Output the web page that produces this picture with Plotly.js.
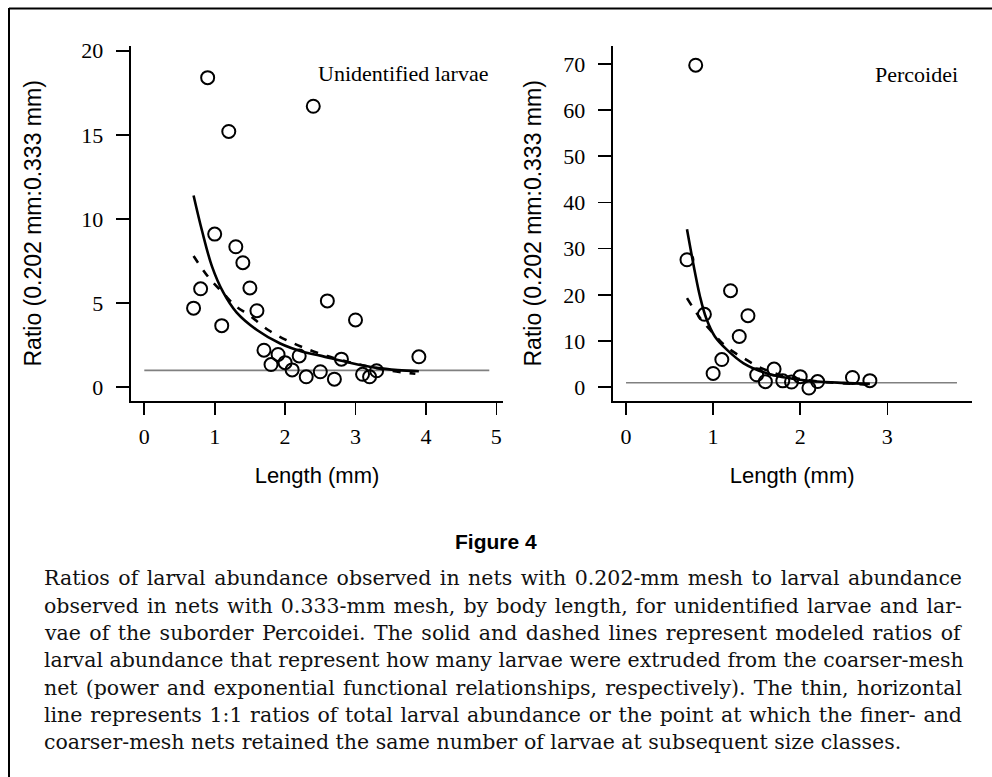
<!DOCTYPE html>
<html>
<head>
<meta charset="utf-8">
<script src="https://cdn.plot.ly/plotly-3.0.1.min.js"></script>
<style>html,body{margin:0;padding:0;background:#fff;}#chart{width:992px;height:777px;}</style>
</head>
<body>
<div id="chart"></div>
<script>
// ---- Unidentified larvae: observed ratios ----
const unidLength = [0.9, 1.2, 2.4, 1.0, 1.3, 1.4, 1.5, 0.8, 0.7, 1.6, 1.1, 2.6, 3.0, 1.7, 1.9, 1.8, 2.0, 2.2, 2.1, 2.3, 2.5, 2.7, 2.8, 3.1, 3.2, 3.3, 3.9];
const unidRatio  = [18.4, 15.2, 16.7, 9.1, 8.35, 7.4, 5.9, 5.85, 4.7, 4.55, 3.66, 5.13, 4.0, 2.2, 1.95, 1.35, 1.46, 1.86, 1.03, 0.62, 0.92, 0.48, 1.67, 0.77, 0.62, 0.98, 1.81];
// modeled curves
const unidPowerX = [0.70, 0.82, 0.96, 1.12, 1.31, 1.60, 1.93, 2.26, 2.50, 2.92, 3.30, 3.60, 3.90];
const unidPowerY = [11.4, 9.3, 7.2, 5.65, 4.45, 3.4, 2.6, 2.1, 1.88, 1.45, 1.15, 1.02, 0.95];
const unidExpX   = [0.70, 0.91, 1.12, 1.29, 1.50, 1.76, 2.02, 2.28, 2.60, 2.90, 3.16, 3.50, 3.85];
const unidExpY   = [7.8, 6.55, 5.6, 4.85, 4.25, 3.4, 2.8, 2.33, 1.85, 1.5, 1.25, 0.98, 0.8];

// ---- Percoidei: observed ratios ----
const percLength = [0.8, 0.7, 1.2, 0.9, 1.4, 1.3, 1.1, 1.0, 1.5, 1.6, 1.7, 1.8, 1.9, 2.0, 2.1, 2.2, 2.6, 2.8];
const percRatio  = [69.7, 27.6, 20.9, 15.8, 15.5, 11.0, 6.0, 3.0, 2.7, 1.22, 3.95, 1.4, 1.15, 2.3, -0.15, 1.25, 2.12, 1.44];
const percPowerX = [0.70, 0.79, 0.85, 0.92, 1.02, 1.16, 1.35, 1.62, 1.88, 2.19, 2.50, 2.80];
const percPowerY = [34.2, 25.0, 19.6, 15.0, 11.0, 8.1, 5.2, 3.0, 1.95, 1.25, 0.95, 0.75];
const percExpX   = [0.70, 0.85, 1.00, 1.15, 1.35, 1.56, 1.77, 2.00, 2.23, 2.50, 2.80];
const percExpY   = [19.3, 15.0, 11.7, 8.8, 6.3, 4.1, 2.7, 1.8, 1.2, 0.85, 0.55];

// 1:1 reference lines
const unidRefX = [0, 4.9];
const unidRefY = [1, 1];
const percRefX = [0, 3.8];
const percRefY = [1, 1];

// tick labels
const unidXTicks = [0, 1, 2, 3, 4, 5];
const unidYTicks = [0, 5, 10, 15, 20];
const percXTicks = [0, 1, 2, 3];
const percYTicks = [0, 10, 20, 30, 40, 50, 60, 70];

const captionLines = [
  "Ratios of larval abundance observed in nets with 0.202-mm mesh to larval abundance",
  "observed in nets with 0.333-mm mesh, by body length, for unidentified larvae and lar-",
  "vae of the suborder Percoidei. The solid and dashed lines represent modeled ratios of",
  "larval abundance that represent how many larvae were extruded from the coarser-mesh",
  "net (power and exponential functional relationships, respectively). The thin, horizontal",
  "line represents 1:1 ratios of total larval abundance or the point at which the finer- and",
  "coarser-mesh nets retained the same number of larvae at subsequent size classes."
];

const W = 992, H = 777;
const px = v => v / W;
const py = v => (H - v) / H;

const marker = {symbol: 'circle-open', size: 13, color: '#000', line: {width: 2, color: '#000'}};
const solid = {color: '#000', width: 2.6, shape: 'spline', smoothing: 1};
const dashed = {color: '#000', width: 2.6, shape: 'spline', smoothing: 1, dash: '8px,9px'};
const ref = {color: '#808080', width: 1.6};

const traces = [
  {x: unidRefX, y: unidRefY, xaxis: 'x', yaxis: 'y', mode: 'lines', line: ref},
  {x: unidExpX, y: unidExpY, xaxis: 'x', yaxis: 'y', mode: 'lines', line: dashed},
  {x: unidPowerX, y: unidPowerY, xaxis: 'x', yaxis: 'y', mode: 'lines', line: solid},
  {x: unidLength, y: unidRatio, xaxis: 'x', yaxis: 'y', mode: 'markers', marker: marker, cliponaxis: false},
  {x: percRefX, y: percRefY, xaxis: 'x2', yaxis: 'y2', mode: 'lines', line: ref},
  {x: percExpX, y: percExpY, xaxis: 'x2', yaxis: 'y2', mode: 'lines', line: dashed},
  {x: percPowerX, y: percPowerY, xaxis: 'x2', yaxis: 'y2', mode: 'lines', line: solid},
  {x: percLength, y: percRatio, xaxis: 'x2', yaxis: 'y2', mode: 'markers', marker: marker, cliponaxis: false}
];

const tickFont = {family: 'Liberation Serif, Times New Roman, serif', size: 22, color: '#000'};
const xTitleFont = {family: 'Liberation Sans, Arial, sans-serif', size: 22, color: '#000'};
const yTitleFont = {family: 'Liberation Sans, Arial, sans-serif', size: 23, color: '#000'};
const yTitle = 'Ratio (0.202 mm:0.333 mm)';

function xAx(domain, range, ticks, anchor) {
  return {domain: domain, range: range, anchor: anchor, tickvals: ticks, ticktext: ticks.map(String),
    showline: true, linecolor: '#000', linewidth: 2, ticks: 'outside', ticklen: 12, tickwidth: 1.6,
    tickcolor: '#000', showgrid: false, zeroline: false, tickfont: tickFont, ticklabelstandoff: 3,
    title: {text: 'Length (mm)', font: xTitleFont, standoff: 20}, fixedrange: true};
}
function yAx(domain, range, ticks, anchor, standoff) {
  return {domain: domain, range: range, anchor: anchor, tickvals: ticks, ticktext: ticks.map(String),
    showline: true, linecolor: '#000', linewidth: 2, ticks: 'outside', ticklen: 13, tickwidth: 1.6,
    tickcolor: '#000', showgrid: false, zeroline: false, tickfont: tickFont, ticklabelstandoff: 8,
    title: {text: yTitle, font: yTitleFont, standoff: standoff}, fixedrange: true};
}

const yDom = [py(400.7), py(46)];

const annotations = [
  {xref: 'x', yref: 'y', x: 4.91, y: 18.67, xanchor: 'right', yanchor: 'middle', showarrow: false,
   text: 'Unidentified larvae', font: {family: 'Liberation Serif, Times New Roman, serif', size: 22, color: '#000'}},
  {xref: 'x2', yref: 'y2', x: 3.835, y: 67.7, xanchor: 'right', yanchor: 'middle', showarrow: false,
   text: 'Percoidei', font: {family: 'Liberation Serif, Times New Roman, serif', size: 22, color: '#000'}},
  {xref: 'paper', yref: 'paper', x: 0.5, y: py(541), xanchor: 'center', yanchor: 'middle', showarrow: false,
   text: '<b>Figure 4</b>', font: {family: 'Liberation Sans, Arial, sans-serif', size: 21, color: '#000'}}
];
const lineY = [578, 605.5, 633, 660, 687.5, 714.5, 741.5];
const captionStart = annotations.length;
captionLines.forEach((t, i) => {
  annotations.push({xref: 'paper', yref: 'paper', x: px(42), y: py(lineY[i]), xanchor: 'left', yanchor: 'middle',
    align: 'left', showarrow: false, text: t, font: {family: 'DejaVu Serif, serif', size: 20.5, color: '#111'}});
});

const layout = {
  width: W, height: H, margin: {l: 0, r: 0, t: 0, b: 0},
  paper_bgcolor: '#fff', plot_bgcolor: 'rgba(0,0,0,0)', showlegend: false,
  xaxis: xAx([px(130.7), px(503.3)], [-0.193, 5.099], unidXTicks, 'y'),
  yaxis: yAx(yDom, [-0.8, 20.28], unidYTicks, 'x', 33),
  xaxis2: xAx([px(612.7), px(971.7)], [-0.153, 3.969], percXTicks, 'y2'),
  yaxis2: yAx(yDom, [-2.9, 73.86], percYTicks, 'x2', 15),
  annotations: annotations,
  shapes: [
    {type: 'line', xref: 'paper', yref: 'paper', x0: px(9), x1: 1, y0: py(8.5), y1: py(8.5), line: {color: '#000', width: 2}},
    {type: 'line', xref: 'paper', yref: 'paper', x0: px(9), x1: px(9), y0: py(8), y1: 0, line: {color: '#000', width: 2}}
  ]
};

Plotly.newPlot('chart', traces, layout, {staticPlot: true, displayModeBar: false}).then(gd => {
  // justify caption lines (all but the last) to the right margin of the text block
  const rightEdge = 962;
  for (let i = 0; i < captionLines.length - 1; i++) {
    const el = gd.querySelector('g.annotation[data-index="' + (captionStart + i) + '"] text.annotation-text');
    if (!el) continue;
    const r = el.getBoundingClientRect();
    const spaces = (captionLines[i].match(/ /g) || []).length;
    const extra = rightEdge - r.right;
    if (spaces > 0 && extra > 0) el.style.wordSpacing = (extra / spaces) + 'px';
  }
});
</script>
</body>
</html>
